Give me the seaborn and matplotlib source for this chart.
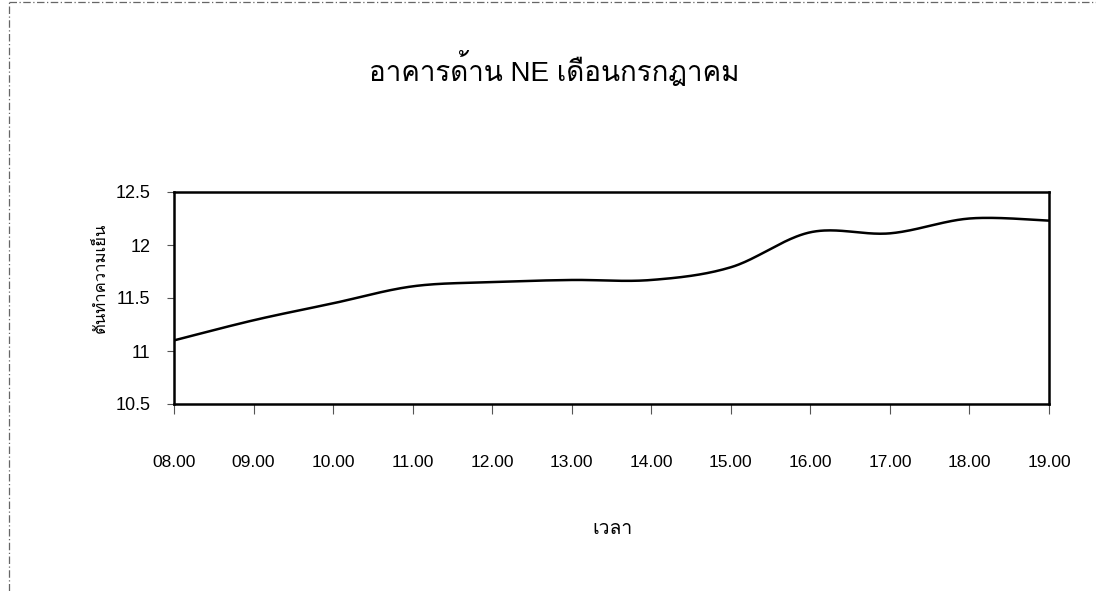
import numpy as np
import pandas as pd
import matplotlib
matplotlib.use("Agg")
import matplotlib.pyplot as plt
from matplotlib import font_manager
from matplotlib.ft2font import FT2Font
import seaborn as sns

# Hourly cooling load, NE side of the building, July
hours = [8, 9, 10, 11, 12, 13, 14, 15, 16, 17, 18, 19]
hour_labels = ["08.00", "09.00", "10.00", "11.00", "12.00", "13.00",
               "14.00", "15.00", "16.00", "17.00", "18.00", "19.00"]
tons = [11.10, 11.29, 11.45, 11.61, 11.65, 11.67, 11.67, 11.79, 12.12, 12.11, 12.25, 12.23]
y_ticks = [10.5, 11, 11.5, 12, 12.5]
y_tick_labels = ["10.5", "11", "11.5", "12", "12.5"]

title_text = "อาคารด้าน NE เดือนกรกฎาคม"
x_label = "เวลา"
y_label = "ตันทำความเย็น"


def find_thai_family():
    """Return the name of an installed family that covers Thai script."""
    seen = set()
    for entry in font_manager.fontManager.ttflist:
        if entry.name in seen:
            continue
        seen.add(entry.name)
        try:
            cmap = FT2Font(entry.fname).get_charmap()
        except Exception:
            continue
        if all(cp in cmap for cp in (0x0E2D, 0x0E32, 0x0E04, 0x0E21)):
            return entry.name
    return "DejaVu Sans"


def smooth_curve(xv, yv, per_seg=40):
    """Bezier smoothing through every point (Catmull-Rom style tangents)."""
    x = np.asarray(xv, float)
    y = np.asarray(yv, float)
    n = len(x)
    xs, ys = [], []
    for i in range(n - 1):
        p0 = np.array([x[max(i - 1, 0)], y[max(i - 1, 0)]])
        p1 = np.array([x[i], y[i]])
        p2 = np.array([x[i + 1], y[i + 1]])
        p3 = np.array([x[min(i + 2, n - 1)], y[min(i + 2, n - 1)]])
        c1 = p1 + (p2 - p0) / 6.0
        c2 = p2 - (p3 - p1) / 6.0
        t = np.linspace(0, 1, per_seg, endpoint=(i == n - 2))[:, None]
        pts = ((1 - t) ** 3) * p1 + 3 * ((1 - t) ** 2) * t * c1 + 3 * (1 - t) * t ** 2 * c2 + t ** 3 * p2
        xs.append(pts[:, 0])
        ys.append(pts[:, 1])
    return np.concatenate(xs), np.concatenate(ys)


sns.set_theme(style="white")
thai_family = find_thai_family()
plt.rcParams["font.family"] = ["Liberation Sans", thai_family, "DejaVu Sans"]

fig = plt.figure(figsize=(10.96, 5.91), dpi=100)
ax = fig.add_axes([174 / 1096, 1 - 404 / 591, (1049 - 174) / 1096, (404 - 192) / 591])

sx, sy = smooth_curve(hours, tons)
curve = pd.DataFrame({"hour": sx, "tons": sy})
sns.lineplot(data=curve, x="hour", y="tons", color="black", linewidth=1.8,
             estimator=None, sort=False, ax=ax)

ax.set_xlim(hours[0], hours[-1])
ax.set_ylim(y_ticks[0], y_ticks[-1])
ax.set_xticks(hours)
ax.set_xticklabels(hour_labels)
ax.set_yticks(y_ticks)
ax.set_yticklabels(y_tick_labels)
ax.tick_params(axis="x", direction="out", length=7, width=0.8, color="#555555",
               pad=30, labelsize=12.5, labelcolor="black")
ax.tick_params(axis="y", direction="out", length=5, width=0.8, color="#555555",
               pad=12, labelsize=13, labelcolor="black")
ax.tick_params(bottom=True, left=True)
for side in ["left", "bottom", "top", "right"]:
    ax.spines[side].set_visible(True)
    ax.spines[side].set_color("black")
    ax.spines[side].set_linewidth(1.8)
ax.set_xlabel("")
ax.set_ylabel("")

fig.text(0.506, 1 - 69 / 591, title_text, ha="center", va="center",
         fontsize=20, color="black")
fig.text(612 / 1096, 1 - 529 / 591, x_label, ha="center", va="center",
         fontsize=14, color="black")
fig.text(100 / 1096, 1 - 278 / 591, y_label, ha="center", va="center",
         rotation=90, fontsize=12, color="black")

# Page frame remnants along the top and left edges
fig.add_artist(plt.Line2D([0.008, 1.0], [0.996, 0.996], transform=fig.transFigure,
                          color="#666666", linewidth=0.9, linestyle=(0, (6, 2, 1, 2))))
fig.add_artist(plt.Line2D([0.008, 0.008], [0.0, 0.996], transform=fig.transFigure,
                          color="#666666", linewidth=0.9, linestyle=(0, (6, 2, 1, 2))))

fig.savefig("out.png", dpi=100, facecolor="white")
